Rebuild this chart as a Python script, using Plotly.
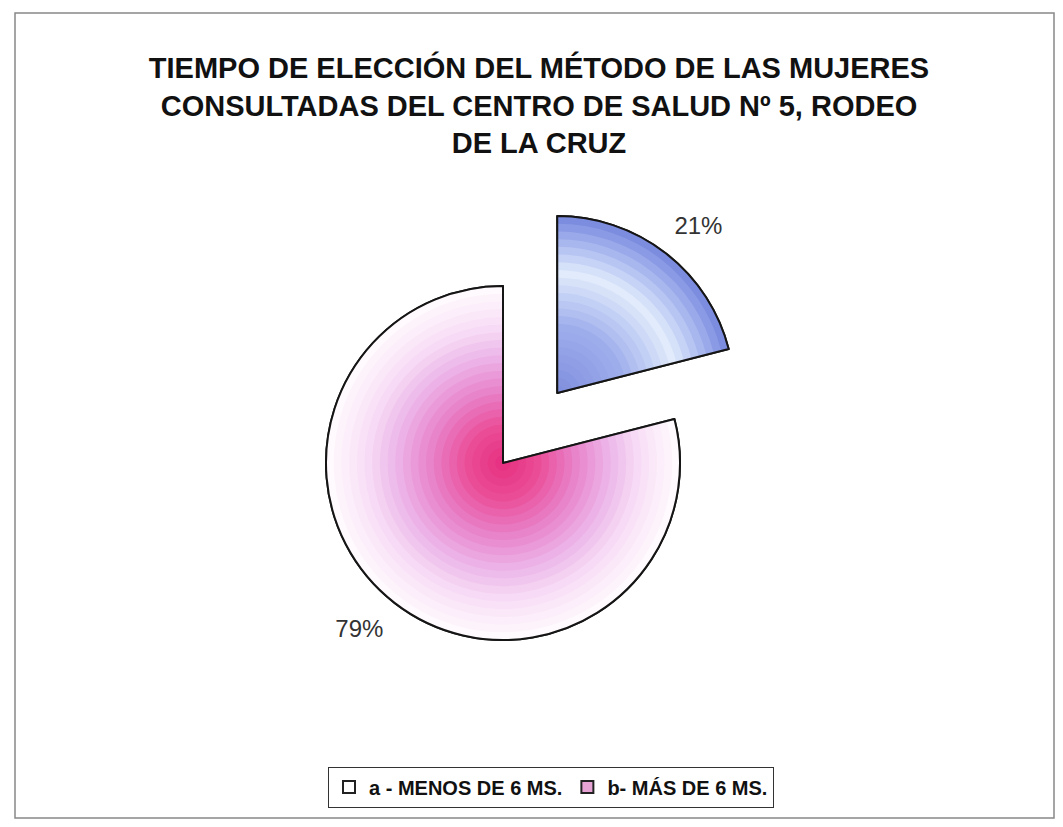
import math
import plotly.graph_objects as go

# ---- data ----
labels = ["a - MENOS DE 6 MS.", "b- MÁS DE 6 MS."]
values = [21, 79]
pct_text = ["21%", "79%"]
title_lines = ["TIEMPO DE ELECCIÓN DEL MÉTODO DE LAS MUJERES",
               "CONSULTADAS DEL CENTRO DE SALUD Nº 5, RODEO",
               "DE LA CRUZ"]

# ---- geometry (page pixels; the page body has an 8px margin) ----
OFF = 8
W, H = 1063 - 2 * OFF, 827 - 2 * OFF
CX, CY = 503, 463          # pie centre on the page
R = 177                    # pie radius
PULL = 0.5
R_TEXT = 193               # radius used only for placing the % labels

def fx(x):
    return (x - OFF) / W

def fy(y):
    return 1 - (y - OFF) / H

def dom(cx, cy, half):
    return dict(x=[fx(cx - half), fx(cx + half)], y=[fy(cy + half), fy(cy - half)])

# apex of the pulled slice
mid = math.radians(360 * values[0] / sum(values) / 2)
AX, AY = CX + PULL * R * math.sin(mid), CY - PULL * R * math.cos(mid)

def make_col(stops):
    def col_at(t):
        for (t0, c0), (t1, c1) in zip(stops[:-1], stops[1:]):
            if t0 <= t <= t1:
                f = (t - t0) / (t1 - t0)
                return "rgb(%d,%d,%d)" % tuple(round(a + (b - a) * f) for a, b in zip(c0, c1))
        return "rgb(%d,%d,%d)" % stops[-1][1]
    return col_at

pink = make_col([(0.0, (230, 44, 126)), (0.22, (234, 76, 150)), (0.42, (232, 128, 200)),
                 (0.62, (236, 180, 232)), (0.8, (248, 222, 246)), (1.0, (255, 250, 253))])
blue = make_col([(0.0, (126, 140, 220)), (0.4, (158, 174, 236)), (0.7, (226, 236, 252)),
                 (0.86, (172, 186, 240)), (1.0, (124, 140, 222))])

TRANSP = "rgba(0,0,0,0)"
common = dict(labels=labels, values=values, sort=False, direction="clockwise",
              rotation=0, hoverinfo="skip", textinfo="none")
main_dom = dom(CX, CY, R * (1 + PULL))

fig = go.Figure()
# legend carrier (covered by the fills below)
fig.add_trace(go.Pie(**common, domain=main_dom, pull=[PULL, 0],
                     marker=dict(colors=["#ffffff", "#e6a3d4"], line=dict(color="#222", width=2)),
                     showlegend=True))
# outer fills
fig.add_trace(go.Pie(**common, domain=main_dom, pull=[PULL, 0],
                     marker=dict(colors=[blue(1.0), pink(1.0)], line=dict(width=0)),
                     showlegend=False))
# radial gradients built from concentric discs
n = 22
for i in range(n, 0, -1):
    s = i / (n + 1)
    fig.add_trace(go.Pie(**common, domain=dom(CX, CY, R * s), pull=[0, 0],
                         marker=dict(colors=[TRANSP, pink(s)], line=dict(width=0)),
                         showlegend=False))
    fig.add_trace(go.Pie(**common, domain=dom(AX, AY, R * s), pull=[0, 0],
                         marker=dict(colors=[blue(s), TRANSP], line=dict(width=0)),
                         showlegend=False))
# percentage labels
pt = PULL * R / R_TEXT
fig.add_trace(go.Pie(labels=labels, values=values, sort=False, direction="clockwise", rotation=-2,
                     hoverinfo="skip", domain=dom(CX, CY, R_TEXT * (1 + pt)), pull=[pt, 0],
                     marker=dict(colors=[TRANSP, TRANSP], line=dict(width=0)),
                     text=pct_text, textinfo="text", textposition="outside",
                     textfont=dict(family="Liberation Sans, Arial", size=24, color="#333"),
                     showlegend=False))
# outline on top
fig.add_trace(go.Pie(**common, domain=main_dom, pull=[PULL, 0],
                     marker=dict(colors=[TRANSP, TRANSP], line=dict(color="#151515", width=2)),
                     showlegend=False))

fig.update_layout(
    width=W, height=H,
    margin=dict(l=0, r=0, t=0, b=0, autoexpand=False),
    paper_bgcolor="white",
    title=dict(text="<br>".join(title_lines), x=fx(539), xanchor="center",
               y=fy(78), yanchor="top",
               font=dict(family="Liberation Sans, Arial", size=29, color="#111", weight="bold")),
    legend=dict(orientation="h", x=fx(551), xanchor="center", y=fy(787), yanchor="middle",
                bordercolor="#333", borderwidth=1, bgcolor="white",
                font=dict(family="Liberation Sans, Arial", size=20, color="#111", weight="bold")),
    shapes=[dict(type="rect", xref="paper", yref="paper",
                 x0=fx(15), x1=fx(1054), y0=fy(818), y1=fy(13),
                 line=dict(color="#888", width=1.5))],
)

fig.write_html("out.html")
